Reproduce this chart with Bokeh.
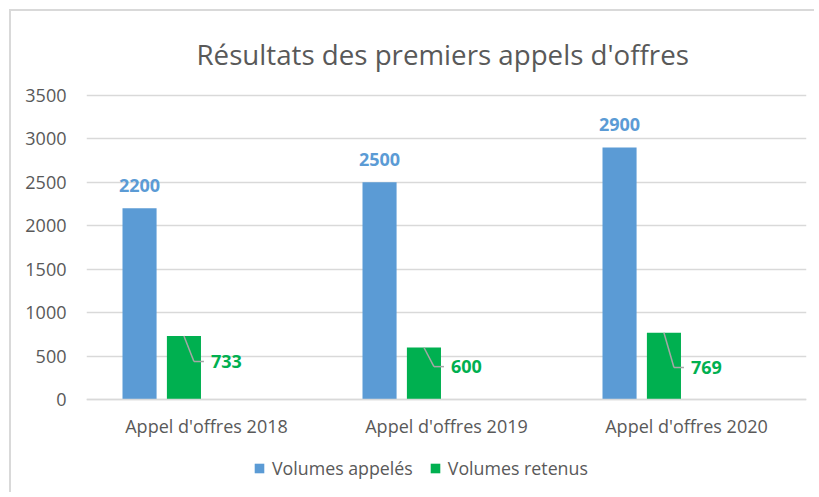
from bokeh.plotting import figure
from bokeh.models import ColumnDataSource, FactorRange, Range1d, Legend, LegendItem, FixedTicker
from bokeh.transform import dodge
from bokeh.core.properties import value
from bokeh.embed import file_html
from bokeh.resources import INLINE

categories = ["Appel d'offres 2018", "Appel d'offres 2019", "Appel d'offres 2020"]
volumes_appeles = [2200, 2500, 2900]
volumes_retenus = [733, 600, 769]
y_ticks = [0, 500, 1000, 1500, 2000, 2500, 3000, 3500]
title_text = "Résultats des premiers appels d'offres"
series_names = ["Volumes appelés", "Volumes retenus"]
# label anchor heights for the green data labels (leader-line callouts)
retenus_label_y = [440, 380, 370]

BLUE = "#5B9BD5"
GREEN = "#00B050"
GRAY = "#595959"
GRID = "#D9D9D9"
FONT = "Open Sans"

src = ColumnDataSource(dict(
    cat=categories,
    appeles=volumes_appeles,
    retenus=volumes_retenus,
    appeles_lbl=[str(v) for v in volumes_appeles],
    retenus_lbl=[str(v) for v in volumes_retenus],
    lab_y=retenus_label_y,
))

# frame extends below zero so that the category labels and the legend sit inside it
p = figure(width=805, height=483, x_range=FactorRange(*categories, range_padding=0),
           y_range=Range1d(-1090, 3520), output_backend="svg", toolbar_location=None,
           min_border_left=75, min_border_right=10, min_border_top=81, min_border_bottom=0)
p.styles = {"position": "relative", "left": "9px", "top": "9px",
            "border-top": "2px solid #D9D9D9", "border-left": "2px solid #D9D9D9"}

p.title.text = title_text
p.title.align = "left"
p.title.offset = 110
p.title.text_font = FONT
p.title.text_font_size = "27.7px"
p.title.text_font_style = "normal"
p.title.text_color = GRAY
p.title.standoff = 42

p.outline_line_color = None
p.xgrid.grid_line_color = None
p.ygrid.grid_line_color = GRID
p.ygrid.grid_line_width = 1.5
p.yaxis.ticker = FixedTicker(ticks=y_ticks)
p.yaxis.axis_line_color = None
p.yaxis.major_tick_line_color = None
p.yaxis.minor_tick_line_color = None
p.yaxis.major_label_standoff = 14
p.yaxis.major_label_text_font = FONT
p.yaxis.major_label_text_font_size = "18px"
p.yaxis.major_label_text_color = GRAY

p.xaxis.fixed_location = 0
p.xaxis.axis_line_color = GRID
p.xaxis.axis_line_width = 1.5
p.xaxis.major_tick_line_color = None
p.xaxis.minor_tick_line_color = None
p.xaxis.major_label_standoff = 8
p.xaxis.major_label_text_font = FONT
p.xaxis.major_label_text_font_size = "18px"
p.xaxis.major_label_text_color = GRAY

W = 0.142
OB = -0.279
OG = -0.094

r1 = p.vbar(x=dodge("cat", OB, range=p.x_range), top="appeles", width=W, source=src,
            fill_color=BLUE, line_color=None)
r2 = p.vbar(x=dodge("cat", OG, range=p.x_range), top="retenus", width=W, source=src,
            fill_color=GREEN, line_color=None)

p.text(x=dodge("cat", OB, range=p.x_range), y="appeles", text="appeles_lbl", source=src,
       text_align="center", text_baseline="bottom", y_offset=-16,
       text_font=value(FONT), text_font_size="18px", text_font_style="bold", text_color=BLUE)

d1 = 10 / 240
d2 = 20 / 240
p.segment(x0=dodge("cat", OG, range=p.x_range), y0="retenus",
          x1=dodge("cat", OG + d1, range=p.x_range), y1="lab_y", source=src,
          line_color="#A6A6A6", line_width=1.5)
p.segment(x0=dodge("cat", OG + d1, range=p.x_range), y0="lab_y",
          x1=dodge("cat", OG + d2, range=p.x_range), y1="lab_y", source=src,
          line_color="#A6A6A6", line_width=1.5)
p.text(x=dodge("cat", OG + 27 / 240, range=p.x_range), y="lab_y", text="retenus_lbl", source=src,
       text_align="left", text_baseline="middle",
       text_font=value(FONT), text_font_size="18px", text_font_style="bold", text_color=GREEN)

legend = Legend(items=[LegendItem(label=series_names[0], renderers=[r1]),
                       LegendItem(label=series_names[1], renderers=[r2])],
                orientation="horizontal", location=(167, 14),
                padding=0, margin=0, spacing=16, label_standoff=7,
                glyph_width=12, glyph_height=12,
                label_text_font=FONT, label_text_font_size="17.8px", label_text_color=GRAY,
                border_line_color=None, background_fill_alpha=0)
p.add_layout(legend, "center")

open("out.html", "w").write(file_html(p, INLINE))
